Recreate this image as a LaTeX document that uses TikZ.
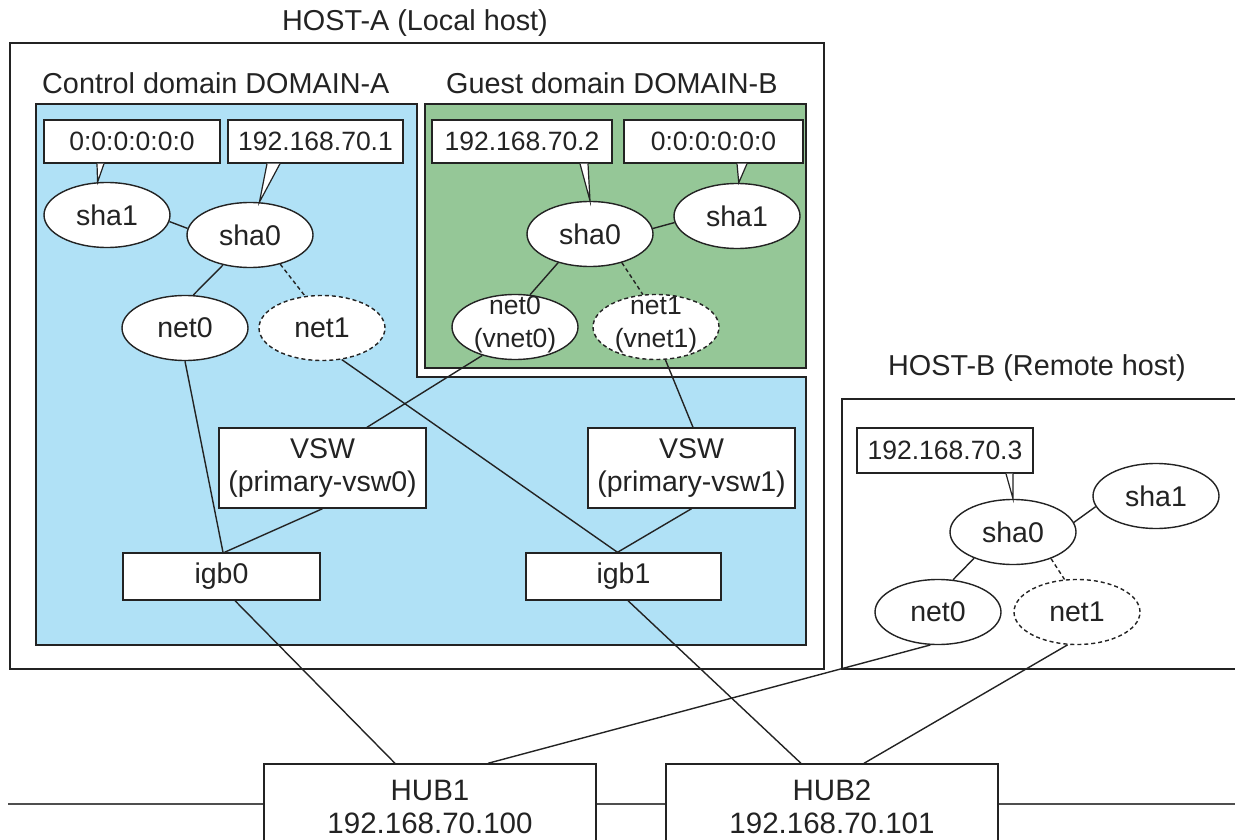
\documentclass[tikz,border=0pt]{standalone}
\usepackage{fontspec}
\setmainfont{Liberation Sans}
\usetikzlibrary{shapes.geometric}
\definecolor{dblue}{RGB}{176,225,246}
\definecolor{dgreen}{RGB}{149,199,151}
\definecolor{ink}{RGB}{35,35,35}
\newcommand{\fsA}{\fontsize{28.5pt}{33pt}\selectfont}
\newcommand{\fsT}{\fontsize{28.8pt}{34pt}\selectfont}
\newcommand{\fsS}{\fontsize{26.5pt}{28pt}\selectfont}
\newcommand{\fsH}{\fontsize{29.5pt}{33pt}\selectfont}
\begin{document}
\begin{tikzpicture}[x=1pt,y=-1pt,
  every node/.style={font=\fsA, text=ink},
  frame/.style={draw=ink, line width=1.7pt},
  lnk/.style={draw=ink, line width=1.4pt},
  dlnk/.style={lnk, dash pattern=on 4pt off 3pt},
  oval/.style={ellipse, draw=ink, fill=white, line width=1.4pt, minimum width=126pt, minimum height=65pt, inner sep=0pt},
  doval/.style={oval, dash pattern=on 4pt off 3pt},
  tag/.style={rectangle, draw=ink, fill=white, line width=1.4pt, inner sep=0pt, minimum height=43pt, font=\fsS},
  box/.style={rectangle, draw=ink, fill=white, line width=1.4pt, inner sep=0pt, align=center},
  ptr/.style={draw=ink, fill=white, line width=1.2pt, line join=miter},
  title/.style={font=\fsT, inner sep=0pt},
  bus/.style={draw=ink!80, line width=1.8pt}
]
\useasboundingbox (0,0) rectangle (1235,840);
\clip (0,0) rectangle (1235,840);

% frames and domains
\draw[frame] (10,43) rectangle (824,669);
\draw[frame] (1250,399) -- (842,399) -- (842,669) -- (1250,669);
\draw[frame, fill=dblue] (36,104) -- (417,104) -- (417,377) -- (806,377) -- (806,645) -- (36,645) -- cycle;
\draw[frame, fill=dgreen] (425,104) rectangle (806,368);

% titles
\node[title] (tA) at (415,23) {HOST-A (Local host)};
\node[title, anchor=west] (tCA) at (42,83) {Control domain DOMAIN-A};
\node[title, anchor=west] (tGB) at (446,83) {Guest domain DOMAIN-B};
\node[title] (tB) at (1037,368) {HOST-B (Remote host)};

% bus and hubs
\coordinate (busL) at (8,804);
\coordinate (busR) at (1245,804);
\draw[bus] (busL) -- (busR);
\node[box, font=\fsH, minimum width=332pt, minimum height=85pt] (hub1) at (430,806.5) {HUB1\\192.168.70.100};
\node[box, font=\fsH, minimum width=332pt, minimum height=85pt] (hub2) at (832,806.5) {HUB2\\192.168.70.101};

% control domain
\node[tag, minimum width=176pt] (cAmac) at (132,141.5) {0:0:0:0:0:0};
\node[tag, minimum width=175pt] (cAip) at (315.5,141.5) {192.168.70.1};
\node[oval] (cAsha1) at (107,215) {sha1};
\node[oval] (cAsha0) at (250,235) {sha0};
\node[oval] (cAnet0) at (185,328) {net0};
\node[doval] (cAnet1) at (322,328) {net1};
\node[box, minimum width=207pt, minimum height=80pt] (vsw0) at (322.5,468) {VSW\\(primary-vsw0)};
\node[box, minimum width=207pt, minimum height=80pt] (vsw1) at (691.5,468) {VSW\\(primary-vsw1)};
\node[box, minimum width=197pt, minimum height=47pt] (igb0) at (221.5,576.5) {igb0};
\node[box, minimum width=195pt, minimum height=47pt] (igb1) at (623.5,576.5) {igb1};

% guest domain
\node[tag, minimum width=180pt] (gBip) at (522,141.5) {192.168.70.2};
\node[tag, minimum width=179pt] (gBmac) at (713.5,141.5) {0:0:0:0:0:0};
\node[oval] (gBsha0) at (590,234) {sha0};
\node[oval] (gBsha1) at (737,216) {sha1};
\node[oval] (gBnet0) at (515,327) {\smash{\raisebox{-4pt}{\begin{tabular}[c]{@{}c@{}}\fsS net0\\\fsS(vnet0)\end{tabular}}}};
\node[doval] (gBnet1) at (656,327) {\smash{\raisebox{-4pt}{\begin{tabular}[c]{@{}c@{}}\fsS net1\\\fsS(vnet1)\end{tabular}}}};

% host B
\node[tag, minimum width=176pt, minimum height=45pt] (hBip) at (945,450.5) {192.168.70.3};
\node[oval] (hBsha0) at (1013,532) {sha0};
\node[oval] (hBsha1) at (1156,496) {sha1};
\node[oval] (hBnet0) at (938,612) {net0};
\node[doval] (hBnet1) at (1077,612) {net1};

% callout pointers
\path[ptr] ([xshift=-35pt]cAmac.south) -- (cAsha1.106) -- ([xshift=-28pt]cAmac.south);
\path[ptr] ([xshift=-48.5pt]cAip.south) -- (cAsha0.74) -- ([xshift=-35.5pt]cAip.south);
\path[ptr] ([xshift=58pt]gBip.south) -- (gBsha0.90) -- ([xshift=66pt]gBip.south);
\path[ptr] ([xshift=23.5pt]gBmac.south) -- (gBsha1.87) -- ([xshift=33.5pt]gBmac.south);
\path[ptr] ([xshift=61pt]hBip.south) -- (hBsha0.90) -- ([xshift=68pt]hBip.south);

% links control domain
\draw[lnk] (cAsha1.-6) -- (cAsha0.174);
\draw[lnk] (cAsha0.228) -- (cAnet0.76);
\draw[dlnk] (cAsha0.-44) -- (cAnet1.118);
\draw[lnk] (cAnet0.south) -- ([xshift=1.5pt]igb0.north);
\draw[lnk] (cAnet1.-58) -- ([xshift=-6pt]igb1.north);
\draw[lnk] (vsw0.south) -- ([xshift=3pt]igb0.north);
\draw[lnk] (vsw1.south) -- ([xshift=-6pt]igb1.north);
\draw[lnk] ([xshift=13.5pt]igb0.south) -- ([xshift=-35pt]hub1.north);
\draw[lnk] ([xshift=4.5pt]igb1.south) -- ([xshift=-31pt]hub2.north);

% links guest domain
\draw[lnk] (gBsha0.5) -- (gBsha1.186);
\draw[lnk] (gBsha0.222) -- (gBnet0.65);
\draw[dlnk] (gBsha0.-42) -- (gBnet1.112);
\draw[lnk] (gBnet0.221) -- ([xshift=44.5pt]vsw0.north);
\draw[lnk] (gBnet1.-74) -- ([xshift=1.5pt]vsw1.north);

% links host B
\draw[lnk] (hBsha0.9) -- (hBsha1.190);
\draw[lnk] (hBsha0.214) -- (hBnet0.65);
\draw[dlnk] (hBsha0.-35) -- (hBnet1.111);
\draw[lnk] (hBnet0.-103) -- ([xshift=58pt]hub1.north);
\draw[lnk] (hBnet1.-106) -- ([xshift=32pt]hub2.north);
\end{tikzpicture}
\end{document}
